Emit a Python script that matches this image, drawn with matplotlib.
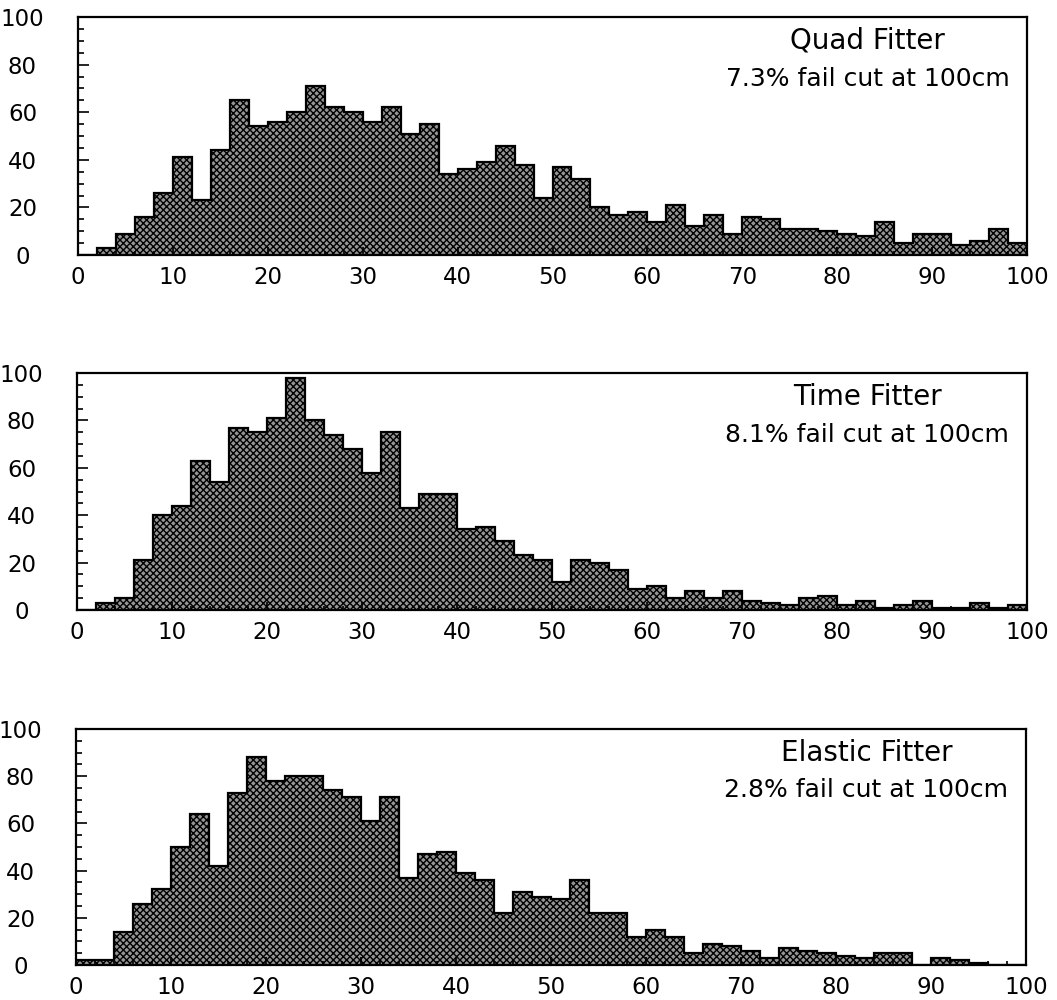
import numpy as np
import matplotlib
matplotlib.use("Agg")
import matplotlib.pyplot as plt
from matplotlib.ticker import MultipleLocator

edges = np.arange(0, 101, 2)

quad_counts = [0, 3, 9, 16, 26, 41, 23, 44, 65, 54,
               56, 60, 71, 62, 60, 56, 62, 51, 55, 34,
               36, 39, 46, 38, 24, 37, 32, 20, 17, 18,
               14, 21, 12, 17, 9, 16, 15, 11, 11, 10,
               9, 8, 14, 5, 9, 9, 4, 6, 11, 5]

time_counts = [0, 3, 5, 21, 40, 44, 63, 54, 77, 75,
               81, 98, 80, 74, 68, 58, 75, 43, 49, 49,
               34, 35, 29, 23, 21, 12, 21, 20, 17, 9,
               10, 5, 8, 5, 8, 4, 3, 2, 5, 6,
               2, 4, 1, 2, 4, 1, 1, 3, 1, 2]

elastic_counts = [2, 2, 14, 26, 32, 50, 64, 42, 73, 88,
                  78, 80, 80, 74, 71, 61, 71, 37, 47, 48,
                  39, 36, 22, 31, 29, 28, 36, 22, 22, 12,
                  15, 12, 5, 9, 8, 6, 3, 7, 6, 5,
                  4, 3, 5, 5, 0, 3, 2, 1, 0, 0]

titles = ["Quad Fitter", "Time Fitter", "Elastic Fitter"]
subtitles = ["7.3% fail cut at 100cm", "8.1% fail cut at 100cm", "2.8% fail cut at 100cm"]
series = [quad_counts, time_counts, elastic_counts]

W, H = 1057, 1000
fig = plt.figure(figsize=(W / 100, H / 100), dpi=100)
fam = ["DejaVu Sans"]

# axes boxes in pixels: left, top, right, bottom
boxes = [(78, 17, 1027, 255), (77, 373, 1027, 610), (76, 729, 1026, 965)]

for (l, t, r, b), counts, title, sub in zip(boxes, series, titles, subtitles):
    ax = fig.add_axes([l / W, 1 - b / H, (r - l) / W, (b - t) / H])
    ax.stairs(counts, edges, fill=True, facecolor="#959595", edgecolor="black",
              hatch="xxxxx", linewidth=0)
    ax.stairs(counts, edges, fill=False, color="black", linewidth=1.6)
    ax.set_xlim(0, 100)
    ax.set_ylim(0, 100)
    ax.xaxis.set_major_locator(MultipleLocator(10))
    ax.xaxis.set_minor_locator(MultipleLocator(2))
    ax.yaxis.set_major_locator(MultipleLocator(20))
    ax.yaxis.set_minor_locator(MultipleLocator(5))
    ax.tick_params(axis="both", which="both", direction="in", width=1.2)
    ax.tick_params(axis="y", which="major", length=8, pad=40, labelsize=16.5)
    ax.tick_params(axis="y", which="minor", length=4)
    ax.tick_params(axis="x", which="major", length=6, pad=8, labelsize=16.5)
    ax.tick_params(axis="x", which="minor", length=3)
    for lab in ax.get_yticklabels():
        lab.set_horizontalalignment("center")
        lab.set_family(fam)
    for lab in ax.get_xticklabels():
        lab.set_family(fam)
    for s in ax.spines.values():
        s.set_linewidth(1.6)
    ax.text(0.832, 0.9, title, transform=ax.transAxes, ha="center", va="center",
            fontsize=20, family=fam)
    ax.text(0.832, 0.74, sub, transform=ax.transAxes, ha="center", va="center",
            fontsize=18, family=fam)

fig.savefig("out.png", dpi=100)
